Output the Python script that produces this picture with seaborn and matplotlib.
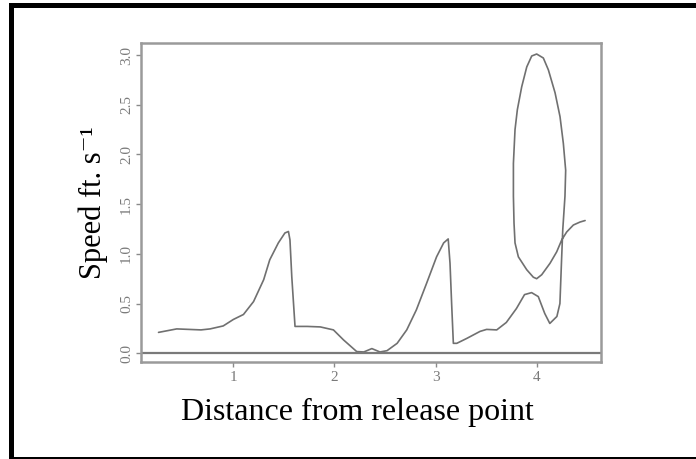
import matplotlib
matplotlib.use("Agg")
import matplotlib.pyplot as plt
from matplotlib.patches import Rectangle
import pandas as pd
import seaborn as sns

# Path of the swimmer (in drawing order)
distance = [0.26, 0.44, 0.68, 0.77, 0.90, 1.00, 1.10, 1.20, 1.30, 1.36, 1.445, 1.51,
            1.545, 1.56, 1.578, 1.61, 1.73, 1.86, 1.99, 2.09, 2.22, 2.29, 2.37, 2.45,
            2.52, 2.62, 2.715, 2.81, 2.91, 3.01, 3.08, 3.125, 3.143, 3.159, 3.176, 3.21,
            3.31, 3.44, 3.505, 3.605, 3.70, 3.80, 3.88, 3.95, 4.016, 4.08, 4.13, 4.20,
            4.23, 4.245, 4.258, 4.28, 4.287, 4.264, 4.231, 4.182, 4.116, 4.066, 4.0,
            3.951, 3.902, 3.852, 3.809, 3.786, 3.77, 3.77, 3.776, 3.786, 3.819, 3.902,
            3.967, 4.0, 4.05, 4.132, 4.198, 4.248, 4.297, 4.363, 4.429, 4.479]
speed = [0.21, 0.245, 0.235, 0.245, 0.275, 0.34, 0.39, 0.52, 0.74, 0.94, 1.11, 1.21,
         1.225, 1.14, 0.77, 0.27, 0.27, 0.265, 0.235, 0.134, 0.017, 0.013, 0.047, 0.013,
         0.026, 0.10, 0.235, 0.436, 0.70, 0.97, 1.11, 1.15, 0.905, 0.50, 0.10, 0.10,
         0.15, 0.22, 0.24, 0.235, 0.31, 0.45, 0.59, 0.61, 0.57, 0.40, 0.30, 0.37,
         0.50, 0.905, 1.24, 1.58, 1.84, 2.11, 2.38, 2.62, 2.85, 2.97, 3.01,
         2.99, 2.88, 2.68, 2.45, 2.25, 1.91, 1.58, 1.31, 1.11, 0.97, 0.84,
         0.765, 0.75, 0.79, 0.905, 1.02, 1.14, 1.22, 1.29, 1.32, 1.335]

x_ticks = [1, 2, 3, 4]
x_tick_labels = ["1", "2", "3", "4"]
y_ticks = [0.0, 0.5, 1.0, 1.5, 2.0, 2.5, 3.0]
y_tick_labels = ["0.0", "0.5", "1.0", "1.5", "2.0", "2.5", "3.0"]

df = pd.DataFrame({"distance": distance, "speed": speed})

sns.set_style("ticks")
plt.rcParams["font.family"] = ["Liberation Serif", "DejaVu Serif"]

fig = plt.figure(figsize=(6.96, 4.59), dpi=100)
ax = fig.add_axes([0.2022, 0.2113, 0.6614, 0.6957])

sns.lineplot(data=df, x="distance", y="speed", sort=False, estimator=None,
             color="#707070", linewidth=1.2, ax=ax)
ax.axhline(0, color="#7a7a7a", linewidth=1.6)

ax.set_xlim(0.084, 4.637)
ax.set_ylim(-0.088, 3.124)

ax.set_xticks(x_ticks)
ax.set_xticklabels(x_tick_labels)
ax.set_yticks(y_ticks)
ax.set_yticklabels(y_tick_labels, rotation=90, va="center")

ax.tick_params(axis="both", direction="out", length=3.5, width=1.0,
               color="#8a8a8a", labelcolor="#7a7a7a", labelsize=11)
ax.tick_params(axis="x", pad=3)
ax.tick_params(axis="y", pad=2)

for sp in ax.spines.values():
    sp.set_color("#9a9a9a")
    sp.set_linewidth(1.8)

ax.set_xlabel("Distance from release point", fontsize=23, color="black", labelpad=10)
ax.xaxis.label.set_x(0.471)
ax.set_ylabel("Speed ft. s\u207b\u00b9", fontsize=22, color="black", labelpad=9)

# outer black frame
fig.add_artist(Rectangle((10.5 / 696, 0.5 / 459), (720 - 10.5) / 696, 454 / 459,
                         transform=fig.transFigure, fill=False,
                         edgecolor="black", linewidth=3.6))

fig.savefig("out.png", dpi=100)
